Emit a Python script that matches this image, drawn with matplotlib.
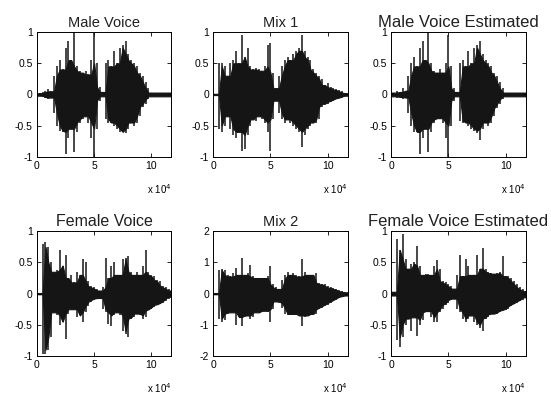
import numpy as np
import matplotlib
matplotlib.use("Agg")
import matplotlib.pyplot as plt

plt.rcParams['font.family'] = ['Liberation Sans', 'DejaVu Sans']

# sample index in units of 1e4 samples (envelope read every 0.25e4)
pos = np.arange(48) * 0.25

titles = ["Male Voice", "Mix 1", "Male Voice Estimated",
          "Female Voice", "Mix 2", "Female Voice Estimated"]

male_up = [0.02, 0.02, 0.04, 0.06, 0.09, 0.05, 0.30, 0.45, 0.55, 0.40, 0.75, 0.85,
           0.55, 1.00, 0.45, 0.38, 0.35, 0.38, 0.32, 0.55, 0.98, 0.50, 0.12, 0.04,
           0.50, 0.55, 0.45, 0.70, 0.50, 0.75, 0.80, 0.85, 0.65, 0.55, 0.50, 0.45,
           0.35, 0.30, 0.20, 0.10, 0.03, 0.03, 0.03, 0.03, 0.03, 0.03, 0.03, 0.03]
male_lo = [-0.02, -0.02, -0.04, -0.06, -0.08, -0.05, -0.30, -0.50, -0.58, -0.60, -0.95, -0.70,
           -0.55, -0.93, -0.60, -0.45, -0.40, -0.35, -0.45, -0.70, -1.00, -0.55, -0.10, -0.03,
           -0.40, -0.45, -0.45, -0.50, -0.55, -0.60, -0.60, -0.62, -0.55, -0.45, -0.50, -0.45,
           -0.35, -0.20, -0.15, -0.08, -0.03, -0.03, -0.03, -0.03, -0.03, -0.03, -0.03, -0.03]

mix1_up = [0.01, 0.01, 0.50, 0.50, 0.45, 0.30, 0.50, 0.55, 0.70, 0.50, 0.95, 0.60,
           0.75, 0.45, 0.40, 0.42, 0.40, 0.38, 0.45, 0.80, 0.83, 0.35, 0.10, 0.30,
           0.45, 0.55, 0.60, 0.55, 0.65, 0.70, 0.75, 0.95, 0.70, 0.60, 0.55, 0.40,
           0.35, 0.30, 0.25, 0.15, 0.18, 0.12, 0.10, 0.08, 0.07, 0.05, 0.03, 0.02]
mix1_lo = [-0.01, -0.01, -0.55, -0.60, -0.50, -0.35, -0.55, -0.65, -0.70, -0.60, -0.90, -0.88,
           -0.65, -0.50, -0.40, -0.42, -0.35, -0.40, -0.45, -0.60, -0.90, -0.40, -0.10, -0.30,
           -0.40, -0.45, -0.40, -0.45, -0.50, -0.55, -0.60, -0.85, -0.65, -0.55, -0.50, -0.45,
           -0.45, -0.40, -0.20, -0.15, -0.15, -0.12, -0.10, -0.08, -0.06, -0.05, -0.03, -0.02]

male_est_up = [0.03, 0.03, 0.05, 0.04, 0.10, 0.06, 0.30, 0.50, 0.60, 0.45, 0.75, 0.85,
               0.55, 1.00, 0.50, 0.38, 0.35, 0.40, 0.35, 0.50, 0.95, 0.45, 0.10, 0.04,
               0.50, 0.55, 0.45, 0.70, 0.50, 0.75, 0.80, 0.85, 0.65, 0.55, 0.50, 0.45,
               0.35, 0.30, 0.20, 0.10, 0.03, 0.03, 0.03, 0.03, 0.03, 0.03, 0.03, 0.03]
male_est_lo = [-0.03, -0.03, -0.05, -0.04, -0.08, -0.05, -0.30, -0.50, -0.60, -0.60, -0.95, -0.70,
               -0.55, -0.93, -0.60, -0.45, -0.40, -0.38, -0.45, -0.70, -1.00, -0.50, -0.10, -0.03,
               -0.42, -0.45, -0.45, -0.50, -0.55, -0.58, -0.62, -0.73, -0.55, -0.45, -0.50, -0.45,
               -0.35, -0.22, -0.15, -0.08, -0.03, -0.03, -0.03, -0.03, -0.03, -0.03, -0.03, -0.03]

female_up = [0.01, 0.01, 0.80, 0.82, 0.75, 0.50, 0.35, 0.38, 0.70, 0.45, 0.62, 0.25,
             0.30, 0.18, 0.35, 0.30, 0.55, 0.50, 0.20, 0.12, 0.10, 0.08, 0.05, 0.10,
             0.57, 0.25, 0.44, 0.50, 0.30, 0.30, 0.55, 0.57, 0.60, 0.35, 0.30, 0.35,
             0.30, 0.45, 0.70, 0.35, 0.30, 0.28, 0.22, 0.20, 0.13, 0.10, 0.08, 0.05]
female_lo = [-0.01, -0.01, -0.97, -0.97, -0.90, -0.70, -0.30, -0.35, -0.50, -0.45, -0.72, -0.32,
             -0.25, -0.25, -0.38, -0.35, -0.45, -0.30, -0.20, -0.13, -0.10, -0.08, -0.07, -0.25,
             -0.30, -0.48, -0.52, -0.35, -0.30, -0.35, -0.60, -0.65, -0.70, -0.40, -0.38, -0.32,
             -0.35, -0.40, -0.38, -0.27, -0.25, -0.22, -0.18, -0.17, -0.15, -0.12, -0.08, -0.05]

mix2_up = [0.02, 0.02, 0.75, 0.80, 0.75, 0.60, 0.55, 0.65, 0.83, 0.60, 1.15, 0.60,
           0.65, 0.93, 0.55, 0.50, 0.50, 0.50, 0.50, 0.55, 0.88, 0.30, 0.20, 0.15,
           0.45, 0.60, 0.70, 0.60, 0.65, 0.60, 0.55, 1.10, 0.70, 0.60, 0.60, 0.60,
           0.65, 0.35, 0.30, 0.30, 0.25, 0.20, 0.18, 0.15, 0.12, 0.08, 0.06, 0.04]
mix2_lo = [-0.02, -0.02, -0.80, -0.90, -0.85, -0.65, -0.60, -0.60, -1.00, -0.75, -1.05, -0.75,
           -0.70, -0.80, -0.75, -0.60, -0.60, -0.60, -0.55, -0.60, -0.90, -0.50, -0.25, -0.30,
           -0.45, -0.65, -0.70, -0.65, -0.65, -0.70, -0.70, -1.05, -0.75, -0.70, -0.70, -0.65,
           -0.65, -0.50, -0.45, -0.40, -0.35, -0.30, -0.25, -0.20, -0.15, -0.10, -0.08, -0.06]

female_est_up = [0.03, 0.03, 0.87, 0.70, 0.95, 0.55, 0.40, 0.48, 0.50, 0.76, 0.45, 0.30,
                 0.32, 0.32, 0.30, 0.45, 0.54, 0.40, 0.20, 0.18, 0.15, 0.12, 0.08, 0.30,
                 0.62, 0.28, 0.55, 0.45, 0.30, 0.30, 0.62, 0.40, 0.73, 0.40, 0.35, 0.33,
                 0.32, 0.33, 0.35, 0.60, 0.28, 0.28, 0.25, 0.20, 0.15, 0.10, 0.07, 0.04]
female_est_lo = [-0.03, -0.03, -0.75, -0.85, -0.70, -0.50, -0.40, -0.60, -0.38, -0.68, -0.50, -0.42,
                 -0.30, -0.28, -0.38, -0.45, -0.45, -0.30, -0.25, -0.18, -0.15, -0.10, -0.08, -0.25,
                 -0.30, -0.40, -0.45, -0.40, -0.35, -0.45, -0.50, -0.55, -0.60, -0.40, -0.38, -0.33,
                 -0.32, -0.32, -0.30, -0.27, -0.26, -0.24, -0.20, -0.17, -0.15, -0.12, -0.10, -0.06]

uppers = [male_up, mix1_up, male_est_up, female_up, mix2_up, female_est_up]
lowers = [male_lo, mix1_lo, male_est_lo, female_lo, mix2_lo, female_est_lo]
ylims = [1, 1, 1, 1, 2, 1]
title_sizes = [10.5, 10.5, 12, 11.5, 10.5, 12]

ink = '#151515'


def core(v):
    # dense body of the waveform: lowest magnitude among neighbouring reads
    a = np.abs(np.asarray(v))
    left = np.concatenate([a[:1], a[:-1]])
    right = np.concatenate([a[1:], a[-1:]])
    return np.sign(v) * np.minimum(np.minimum(left, right), a)


fig = plt.figure(figsize=(5.51, 3.96), dpi=100)
lefts = [0.067, 0.387, 0.710]
bottoms = [0.604, 0.101]

for i in range(6):
    r, c = divmod(i, 3)
    ax = fig.add_axes([lefts[c], bottoms[r], 0.244, 0.315])
    up = np.asarray(uppers[i])
    lo = np.asarray(lowers[i])
    ax.fill_between(pos, core(lo), core(up), color=ink, lw=0.8)
    ax.vlines(pos, lo, up, color=ink, lw=1.1)
    lim = ylims[i]
    ax.set_xlim(0, 11.75)
    ax.set_ylim(-lim, lim)
    ax.set_xticks([0, 5, 10])
    ax.set_xticklabels(["0", "5", "10"])
    if lim == 1:
        ax.set_yticks([-1, -0.5, 0, 0.5, 1])
        ax.set_yticklabels(["-1", "-0.5", "0", "0.5", "1"])
    else:
        ax.set_yticks([-2, -1, 0, 1, 2])
        ax.set_yticklabels(["-2", "-1", "0", "1", "2"])
    ax.tick_params(direction='in', top=True, right=True, length=3, width=0.6,
                   labelsize=7.5, pad=3)
    for s in ax.spines.values():
        s.set_linewidth(0.7)
    ax.set_title(titles[i], fontsize=title_sizes[i], pad=4, color='#202020')
    ax.text(1.0, -0.255, r'x 10$^4$', transform=ax.transAxes, ha='right',
            va='center', fontsize=7)

fig.savefig("out.png", dpi=100)
